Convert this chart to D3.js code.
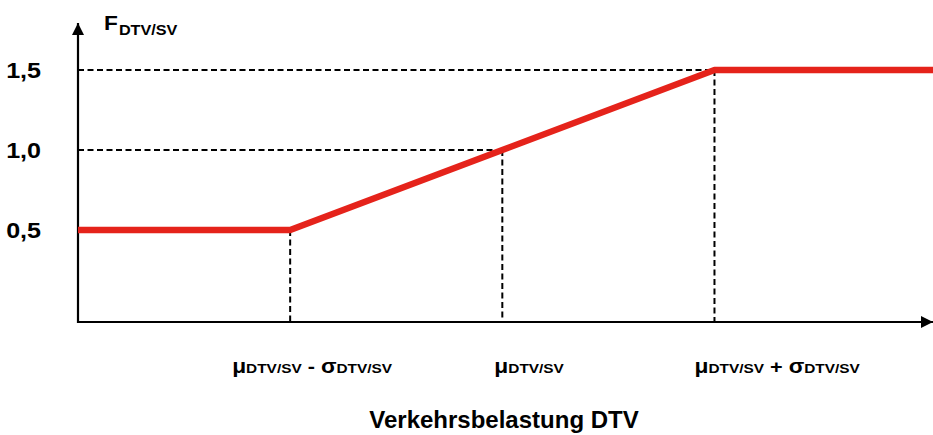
<!DOCTYPE html>
<html>
<head>
<meta charset="utf-8">
<script src="https://cdn.jsdelivr.net/npm/d3@7"></script>
<style>
  html, body { margin: 0; padding: 0; background: #fff; }
  svg { display: block; font-family: "Liberation Sans", Arial, sans-serif; font-weight: bold; }
</style>
</head>
<body>
<svg id="chart" width="933" height="435"></svg>
<script>
// ---- data ----
// x positions expressed in units of sigma relative to mu
const breakPoints = [-1, 0, 1];                 // mu - sigma, mu, mu + sigma
const breakValues = [0.5, 1.0, 1.5];            // F at the break points
const curveX = [-2, -1, 0, 1, 2.03];            // red curve x (axis origin .. right edge)
const curveY = [0.5, 0.5, 1.0, 1.5, 1.5];       // red curve F values
const yTicks = [0.5, 1.0, 1.5];
const yTickLabels = ["0,5", "1,0", "1,5"];
const xLabelMain = [["μ", " - ", "σ"], ["μ"], ["μ", " + ", "σ"]];
const subText = "DTV/SV";
const yTitleMain = "F";
const xTitle = "Verkehrsbelastung DTV";

// ---- layout ----
const svg = d3.select("#chart");
const W = 933, H = 435;
const x = d3.scaleLinear().domain([-2, 2.03]).range([78, 933]);
const y = d3.scaleLinear().domain([-0.075, 1.5]).range([322, 70]);
const yTop = 1.794;   // arrow tip of the y axis
const stretch = 1.14;

// dashed guide lines
const g = svg.append("g");
breakPoints.forEach((bx, i) => {
  const by = breakValues[i];
  g.append("line")
    .attr("x1", x(-2)).attr("x2", x(bx))
    .attr("y1", y(by)).attr("y2", y(by))
    .attr("stroke", "#000").attr("stroke-width", 2)
    .attr("stroke-dasharray", "6,3.5");
  g.append("line")
    .attr("x1", x(bx)).attr("x2", x(bx))
    .attr("y1", y(by)).attr("y2", y(-0.075))
    .attr("stroke", "#000").attr("stroke-width", 2)
    .attr("stroke-dasharray", "6,3.5");
});

// axes lines with arrows
const defs = svg.append("defs");
defs.append("marker")
  .attr("id", "arrow").attr("viewBox", "0 0 12 12")
  .attr("refX", 12).attr("refY", 6)
  .attr("markerWidth", 12).attr("markerHeight", 12)
  .attr("markerUnits", "userSpaceOnUse")
  .attr("orient", "auto")
  .append("path").attr("d", "M0,0 L12,6 L0,12 Z").attr("fill", "#000");

svg.append("line")
  .attr("x1", x(-2)).attr("x2", x(-2))
  .attr("y1", y(-0.075) + 1).attr("y2", y(yTop))
  .attr("stroke", "#000").attr("stroke-width", 2.2)
  .attr("marker-end", "url(#arrow)");
svg.append("line")
  .attr("x1", x(-2) - 1).attr("x2", W)
  .attr("y1", y(-0.075)).attr("y2", y(-0.075))
  .attr("stroke", "#000").attr("stroke-width", 2.2)
  .attr("marker-end", "url(#arrow)");

// red curve
const line = d3.line().x(d => x(d[0])).y(d => y(d[1]));
svg.append("path")
  .datum(curveX.map((v, i) => [v, curveY[i]]))
  .attr("d", line)
  .attr("fill", "none")
  .attr("stroke", "#e5231b")
  .attr("stroke-width", 6.5)
  .attr("stroke-linejoin", "round");

// y tick labels via axis
const yAxis = d3.axisLeft(y).tickValues(yTicks)
  .tickFormat((d, i) => yTickLabels[i]).tickSize(0);
const ya = svg.append("g").attr("transform", `translate(${x(-2)},0)`).call(yAxis);
ya.select(".domain").remove();
ya.selectAll("text")
  .attr("font-family", "Liberation Sans, Arial, sans-serif")
  .attr("font-weight", "bold")
  .attr("font-size", 22)
  .attr("fill", "#000")
  .attr("x", -37 / stretch)
  .attr("dy", "0.36em")
  .attr("transform", `scale(${stretch},1)`);

// y title: F_DTV/SV
const yt = svg.append("g").attr("transform", `translate(104,30) scale(1.08,1)`)
  .append("text").attr("fill", "#000");
yt.append("tspan").attr("font-size", 21).text(yTitleMain);
yt.append("tspan").attr("font-size", 15).attr("dy", 5).attr("dx", 1).text(subText);

// x labels
const xLabelDx = [-58, -8, -20];
breakPoints.forEach((bx, i) => {
  const t = svg.append("g")
    .attr("transform", `translate(${x(bx) + xLabelDx[i]},373) scale(${stretch},1)`)
    .append("text").attr("fill", "#000");
  xLabelMain[i].forEach((part, j) => {
    if (j === 1) {
      t.append("tspan").attr("font-size", 19).attr("xml:space", "preserve").text(part);
    } else {
      t.append("tspan").attr("font-size", 20).text(part);
      t.append("tspan").attr("font-size", 13.5).text(subText);
    }
  });
});

// x title
svg.append("text")
  .attr("x", 504).attr("y", 428)
  .attr("text-anchor", "middle")
  .attr("font-size", 24)
  .attr("fill", "#000")
  .text(xTitle);
</script>
</body>
</html>
